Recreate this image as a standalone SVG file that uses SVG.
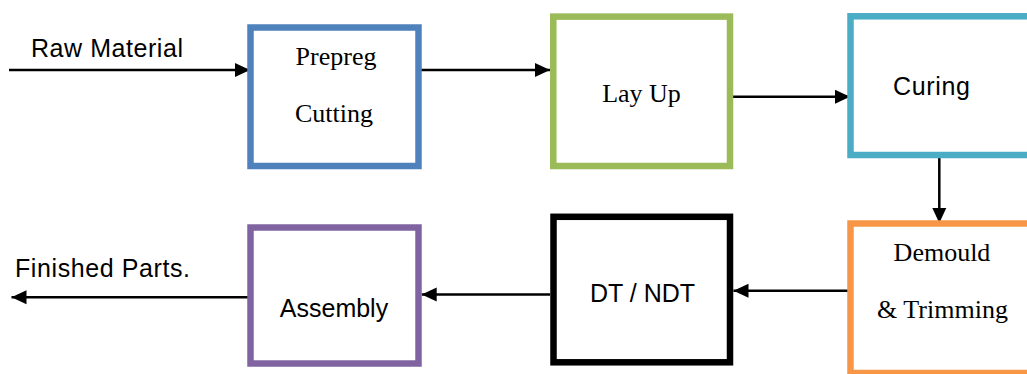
<svg xmlns="http://www.w3.org/2000/svg" width="1027" height="374" viewBox="0 0 1027 374">
<style>
.box{fill:#fff;stroke-width:6.5}
.conn{stroke:#000;stroke-width:2.5;fill:none;marker-end:url(#ah)}
.sans{font-family:"Liberation Sans",Arial,sans-serif;font-size:25px;fill:#000}
.serif{font-family:"Liberation Serif","Times New Roman",serif;font-size:26px;fill:#000}
</style>
<defs>
<marker id="ah" markerUnits="userSpaceOnUse" markerWidth="16" markerHeight="16" viewBox="0 0 16 16" refX="15" refY="8" orient="auto">
<path d="M0,1 L15,8 L0,15 Z" fill="#000"/>
</marker>
</defs>
<rect width="1027" height="374" fill="#fff"/>
<g id="connectors">
<line class="conn" x1="9" y1="70" x2="250" y2="70"/>
<line class="conn" x1="417" y1="70" x2="550" y2="70"/>
<line class="conn" x1="730" y1="96.7" x2="850" y2="96.7"/>
<line class="conn" x1="939.3" y1="129.3" x2="939.3" y2="223"/>
<line class="conn" x1="852" y1="290.7" x2="733.5" y2="290.7"/>
<line class="conn" x1="550" y1="294.5" x2="421.7" y2="294.5"/>
<line class="conn" x1="251" y1="297.3" x2="11.5" y2="297.3"/>
</g>
<g id="label-raw"><text class="sans" x="31" y="56.7" textLength="152">Raw Material</text></g>
<g id="label-finished"><text class="sans" x="15" y="277.3" textLength="175">Finished Parts.</text></g>
<g id="prepreg">
<rect class="box" x="250.5" y="27.5" width="168" height="138.5" stroke="#4F81BD"/>
<text class="serif" x="336" y="65" text-anchor="middle">Prepreg</text>
<text class="serif" x="334" y="121.7" text-anchor="middle">Cutting</text>
</g>
<g id="layup">
<rect class="box" x="553.3" y="16.6" width="176.7" height="149.4" stroke="#9BBB59"/>
<text class="serif" x="641.5" y="101.7" text-anchor="middle">Lay Up</text>
</g>
<g id="curing">
<rect class="box" x="850.5" y="16.3" width="300" height="138.7" stroke="#4BACC6"/>
<text class="sans" x="893" y="95" textLength="77">Curing</text>
</g>
<g id="demould">
<rect class="box" x="850.5" y="223.5" width="300" height="149.5" stroke="#F79646"/>
<text class="serif" x="942" y="260.7" text-anchor="middle">Demould</text>
<text class="serif" x="942.5" y="318.3" text-anchor="middle">&amp; Trimming</text>
</g>
<g id="dtndt">
<rect class="box" x="553.5" y="216.8" width="176.5" height="145.5" stroke="#000" stroke-width="7"/>
<text class="sans" x="642.5" y="301.7" text-anchor="middle">DT / NDT</text>
</g>
<g id="assembly">
<rect class="box" x="250.5" y="227.5" width="168" height="136" stroke="#8064A2"/>
<text class="sans" x="334" y="316.7" text-anchor="middle">Assembly</text>
</g>
</svg>
